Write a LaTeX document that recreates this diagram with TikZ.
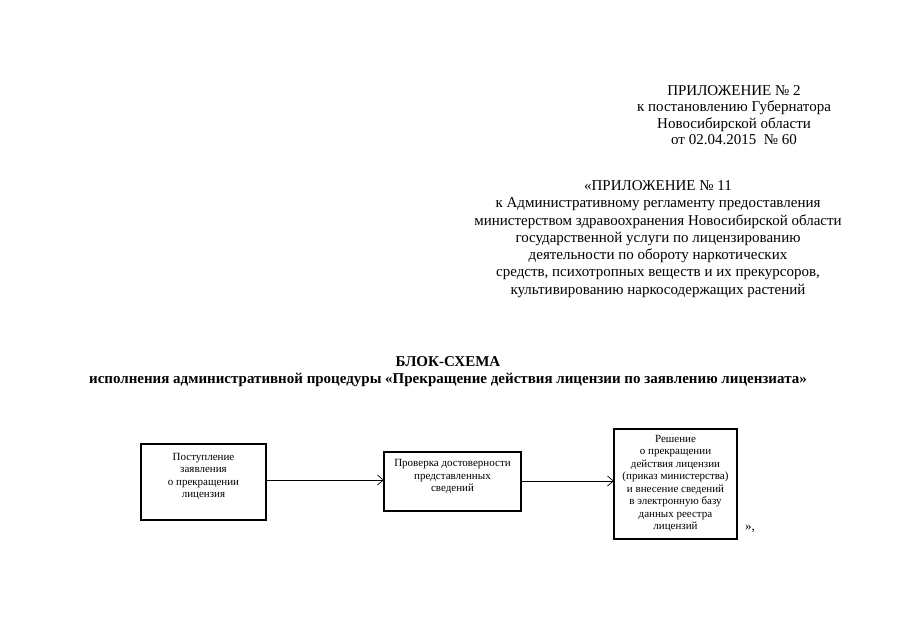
\documentclass[tikz,border=0pt]{standalone}
\usepackage{fontspec}
\setmainfont{Liberation Serif}
\usetikzlibrary{arrows.meta}
\begin{document}
\begin{tikzpicture}[x=1pt,y=-1pt,
  hdr/.style={align=center, inner sep=0pt},
  boxst/.style={draw, line width=1.8pt},
  btext/.style={font=\fontsize{11}{12.5}\selectfont, align=center, inner sep=0pt},
  ttl/.style={font=\bfseries\fontsize{15}{17}\selectfont, inner sep=0pt},
  conn/.style={line width=0.7pt, -{Straight Barb[length=6pt,width=10pt]}}]
\useasboundingbox (0,0) rectangle (905,640);
\node[hdr, font=\fontsize{15}{16.4}\selectfont] (h1) at (734,115) {ПРИЛОЖЕНИЕ № 2\\к постановлению Губернатора\\Новосибирской области\\от 02.04.2015\ \ № 60};
\node[hdr, font=\fontsize{15}{17.3}\selectfont] (h2) at (658,239) {«ПРИЛОЖЕНИЕ № 11\\к Административному регламенту предоставления\\министерством здравоохранения Новосибирской области\\государственной услуги по лицензированию\\деятельности по обороту наркотических\\средств, психотропных веществ и их прекурсоров,\\культивированию наркосодержащих растений};
\node[ttl] (t1) at (448,362) {БЛОК-СХЕМА};
\node[ttl] (t2) at (448,380) {исполнения административной процедуры «Прекращение действия лицензии по заявлению лицензиата»};
\draw[boxst] (141,444) rectangle (266,520);
\node[btext] (b1) at (203.5,476.5) {Поступление\\заявления\\о прекращении\\лицензия};
\coordinate (b1e) at (266,480);
\draw[boxst] (384,452) rectangle (521,511);
\node[btext] (b2) at (452.5,476.5) {Проверка достоверности\\представленных\\сведений};
\coordinate (b2w) at (384,480);
\coordinate (b2e) at (521,481);
\draw[boxst] (614,429) rectangle (737,539);
\node[btext] (b3) at (675.5,483.5) {Решение\\о прекращении\\действия лицензии\\(приказ министерства)\\и внесение сведений\\в электронную базу\\данных реестра\\лицензий};
\coordinate (b3w) at (614,481);
\draw[conn] (b1e) -- (b2w);
\draw[conn] (b2e) -- (b3w);
\node[font=\fontsize{13}{15}\selectfont, inner sep=0pt] (q) at (750,529) {»,};
\end{tikzpicture}
\end{document}
